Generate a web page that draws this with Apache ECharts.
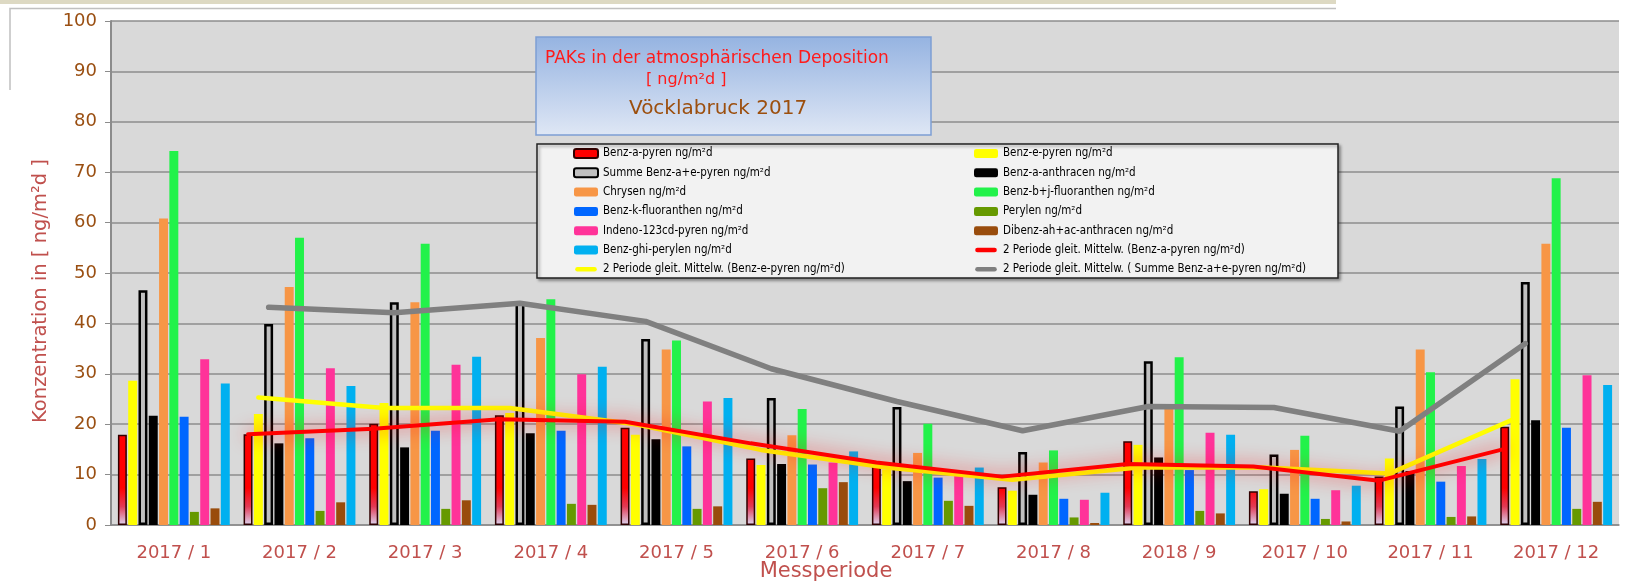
<!DOCTYPE html>
<html>
<head>
<meta charset="utf-8">
<title>PAKs in der atmosphärischen Deposition - Vöcklabruck 2017</title>
<script src="https://cdn.jsdelivr.net/npm/echarts@6/dist/echarts.min.js"></script>
<style>
  html, body { margin: 0; padding: 0; background: #ffffff; }
  #chart { width: 1630px; height: 588px; }
</style>
</head>
<body>
<div id="chart"></div>
<script>
// Messperioden (Beschriftung wie im Original, inkl. "2018 / 9")
var perioden = ['2017 / 1', '2017 / 2', '2017 / 3', '2017 / 4', '2017 / 5', '2017 / 6',
  '2017 / 7', '2017 / 8', '2018 / 9', '2017 / 10', '2017 / 11', '2017 / 12'];

// Messwerte in ng/m²d
var benzAPyren      = [17.9, 18.0, 20.1, 21.8, 19.3, 13.2, 11.6, 7.5, 16.6, 6.7, 9.6, 19.5];
var benzEPyren      = [28.6, 22.0, 24.2, 22.2, 17.9, 11.9, 11.0, 6.8, 15.9, 7.1, 13.2, 28.9];
var summeBenzAE     = [46.6, 39.9, 44.2, 44.0, 36.9, 25.2, 23.4, 14.5, 32.5, 14.0, 23.5, 48.2];
var benzAAnthracen  = [21.7, 16.2, 15.4, 18.2, 17.0, 12.1, 8.7, 6.0, 13.4, 6.2, 10.7, 20.8];
var chrysen         = [60.8, 47.2, 44.2, 37.1, 34.8, 17.8, 14.3, 12.4, 24.0, 14.9, 34.8, 55.8];
var benzBJFluor     = [74.2, 57.0, 55.8, 44.8, 36.6, 23.0, 20.1, 14.8, 33.3, 17.7, 30.3, 68.8];
var benzKFluor      = [21.5, 17.2, 18.7, 18.7, 15.6, 12.0, 9.4, 5.2, 10.9, 5.2, 8.6, 19.3];
var perylen         = [2.6, 2.8, 3.2, 4.2, 3.2, 7.3, 4.8, 1.5, 2.8, 1.2, 1.6, 3.2];
var indenoPyren     = [32.9, 31.1, 31.8, 29.9, 24.5, 12.4, 9.7, 5.0, 18.3, 6.9, 11.7, 29.7];
var dibenzAnthracen = [3.3, 4.5, 4.9, 4.0, 3.7, 8.5, 3.8, 0.4, 2.3, 0.7, 1.7, 4.6];
var benzGhiPerylen  = [28.1, 27.6, 33.4, 31.4, 25.2, 14.6, 11.4, 6.4, 17.9, 7.8, 13.1, 27.8];

// gleitende Mittelwerte (2 Perioden)
var mittelBaP   = [null, 18.0, 19.1, 21.0, 20.5, 16.2, 12.4, 9.6, 12.1, 11.6, 8.8, 15.1];
var mittelBeP   = [null, 25.3, 23.2, 23.2, 20.0, 14.9, 11.4, 9.0, 11.4, 11.4, 10.2, 21.1];
var mittelSumme = [null, 43.2, 42.1, 44.0, 40.4, 31.0, 24.5, 18.7, 23.5, 23.3, 18.6, 36.0];

// y-Achse
var yMin = 0, yMax = 100, yStep = 10;

var W = 1630;
var gridLeft = 111, gridRight = 11, gridTop = 21, gridBottom = 63;
var catGap = 0.11, barGap = 0.15, barCount = 11;

// Versatz eines Balkens gegenüber der Kategoriemitte (für die Linien)
function barOffset(idx) {
  var catW = (W - gridLeft - gridRight) / perioden.length;
  var used = catW * (1 - catGap);
  var w = used / (barCount + (barCount - 1) * barGap);
  return -used / 2 + w * (1 + barGap) * idx + w / 2;
}

var redFill = new echarts.graphic.LinearGradient(0, 488, 0, 525, [
  { offset: 0, color: '#ff0000' },
  { offset: 0.5, color: '#e23a55' },
  { offset: 1, color: '#dcd6f2' }
], true);

var balken = [
  { name: 'Benz-a-pyren ng/m²d', data: benzAPyren, itemStyle: { color: redFill, borderColor: '#300000', borderWidth: 1.5 } },
  { name: 'Benz-e-pyren ng/m²d', data: benzEPyren, itemStyle: { color: '#ffff00' } },
  { name: 'Summe Benz-a+e-pyren ng/m²d', data: summeBenzAE, itemStyle: { color: '#c0c0c0', borderColor: '#000000', borderWidth: 2.5 } },
  { name: 'Benz-a-anthracen ng/m²d', data: benzAAnthracen, itemStyle: { color: '#000000' } },
  { name: 'Chrysen ng/m²d', data: chrysen, itemStyle: { color: '#f79646' } },
  { name: 'Benz-b+j-fluoranthen ng/m²d', data: benzBJFluor, itemStyle: { color: '#22f24a' } },
  { name: 'Benz-k-fluoranthen ng/m²d', data: benzKFluor, itemStyle: { color: '#0066ff' } },
  { name: 'Perylen ng/m²d', data: perylen, itemStyle: { color: '#669900' } },
  { name: 'Indeno-123cd-pyren ng/m²d', data: indenoPyren, itemStyle: { color: '#ff3399' } },
  { name: 'Dibenz-ah+ac-anthracen ng/m²d', data: dibenzAnthracen, itemStyle: { color: '#994c0c' } },
  { name: 'Benz-ghi-perylen ng/m²d', data: benzGhiPerylen, itemStyle: { color: '#00b0f0' } }
];

var linien = [
  { name: '2 Periode gleit. Mittelw. (Benz-a-pyren ng/m²d)', data: mittelBaP, bar: 0,
    lineStyle: { color: '#ff0000', width: 4, cap: 'round', shadowBlur: 18, shadowColor: 'rgba(255,0,0,0.8)' } },
  { name: '2 Periode gleit. Mittelw. (Benz-e-pyren ng/m²d)', data: mittelBeP, bar: 1,
    lineStyle: { color: '#ffff00', width: 4.5, cap: 'round' } },
  { name: '2 Periode gleit. Mittelw. ( Summe Benz-a+e-pyren ng/m²d)', data: mittelSumme, bar: 2,
    lineStyle: { color: '#808080', width: 5.5, cap: 'round' } }
];

// dicke Linie mit runden Enden als Legendensymbol
var lineIcon = 'path://M0,0M2.5,2.5L21.5,2.5A2.5,2.5,0,0,1,21.5,7.5L2.5,7.5A2.5,2.5,0,0,1,2.5,2.5ZM24,10';

var grids = [{ left: gridLeft, right: gridRight, top: gridTop, bottom: gridBottom,
  show: true, backgroundColor: '#d9d9d9', borderWidth: 0 }];
var xAxes = [{
  type: 'category', gridIndex: 0, data: perioden,
  axisLine: { lineStyle: { color: '#8c8c8c', width: 1.5 } },
  axisTick: { length: 5, lineStyle: { color: '#8c8c8c' } },
  axisLabel: { color: '#c0504d', fontSize: 18, fontFamily: 'DejaVu Sans', margin: 19 }
}];
var yAxes = [{
  type: 'value', gridIndex: 0, min: yMin, max: yMax, interval: yStep,
  axisLine: { show: true, lineStyle: { color: '#8c8c8c', width: 2 } },
  axisTick: { show: true, length: 6, lineStyle: { color: '#8c8c8c' } },
  axisLabel: { color: '#9a4f12', fontSize: 18, fontFamily: 'DejaVu Sans', margin: 14 },
  splitLine: { lineStyle: { color: '#8c8c8c', width: 1.5 } }
}];

var series = balken.map(function (b) {
  return {
    name: b.name, type: 'bar', xAxisIndex: 0, yAxisIndex: 0, data: b.data,
    itemStyle: b.itemStyle, barGap: (barGap * 100) + '%', barCategoryGap: (catGap * 100) + '%',
    z: 2
  };
});

linien.forEach(function (l, i) {
  var off = barOffset(l.bar);
  grids.push({ left: gridLeft + off, right: gridRight - off, top: gridTop, bottom: gridBottom });
  xAxes.push({ type: 'category', gridIndex: i + 1, data: perioden, show: false });
  yAxes.push({ type: 'value', gridIndex: i + 1, min: yMin, max: yMax, show: false });
  series.push({
    name: l.name, type: 'line', xAxisIndex: i + 1, yAxisIndex: i + 1, data: l.data,
    symbol: 'none', lineStyle: l.lineStyle, itemStyle: { color: l.lineStyle.color },
    z: 5 + (i === 0 ? 1 : 0)
  });
});

function legendItem(name) {
  var isLine = linien.some(function (l) { return l.name === name; });
  return isLine ? { name: name, icon: lineIcon } : { name: name };
}

var legendText = { color: '#000000', fontSize: 11.5, fontFamily: 'Liberation Sans Narrow, DejaVu Sans Condensed, sans-serif', lineHeight: 14 };

var chart = echarts.init(document.getElementById('chart'));
chart.setOption({
  animation: false,
  grid: grids,
  xAxis: xAxes,
  yAxis: yAxes,
  legend: [
    {
      orient: 'vertical', left: 573, top: 146.5, padding: 0, itemWidth: 24, itemHeight: 9, itemGap: 5.3,
      textStyle: legendText, selectedMode: false,
      data: [balken[0].name, balken[2].name, balken[4].name, balken[6].name, balken[8].name, balken[10].name, linien[1].name].map(legendItem)
    },
    {
      orient: 'vertical', left: 974, top: 146.5, padding: 0, itemWidth: 24, itemHeight: 9, itemGap: 5.3,
      textStyle: legendText, selectedMode: false,
      data: [balken[1].name, balken[3].name, balken[5].name, balken[7].name, balken[9].name, linien[0].name, linien[2].name].map(legendItem)
    }
  ],
  graphic: [
    { type: 'rect', shape: { x: 0, y: 0, width: 1336, height: 4 }, style: { fill: '#ddd9c3' }, silent: true },
    { type: 'polyline', shape: { points: [[10, 90], [10, 8.5], [1336, 8.5]] }, style: { stroke: '#c0c0c0', lineWidth: 1.5, fill: null }, silent: true },
    {
      type: 'rect', shape: { x: 536, y: 37, width: 395, height: 98 }, z: 10,
      style: {
        fill: new echarts.graphic.LinearGradient(0, 0, 0, 1, [
          { offset: 0, color: '#95b3e1' }, { offset: 1, color: '#dfe7f5' }
        ]),
        stroke: '#7d9ed3', lineWidth: 1.5
      }
    },
    { type: 'text', left: 545, top: 50, z: 11, style: { text: 'PAKs in der atmosphärischen Deposition', fill: '#ff1a1a', font: '17px DejaVu Sans' } },
    { type: 'text', left: 646, top: 72, z: 11, style: { text: '[ ng/m²d ]', fill: '#ff1a1a', font: '16px DejaVu Sans' } },
    { type: 'text', left: 629, top: 99, z: 11, style: { text: 'Vöcklabruck 2017', fill: '#9c4f0e', font: '20px DejaVu Sans' } },
    {
      type: 'rect', shape: { x: 537, y: 144, width: 801, height: 134 }, z: 1,
      style: { fill: '#f2f2f2', stroke: '#222222', lineWidth: 1.5, shadowBlur: 3, shadowColor: 'rgba(0,0,0,0.35)', shadowOffsetX: 2, shadowOffsetY: 2 }
    },
    {
      type: 'text', x: 41, y: 291, rotation: Math.PI / 2, z: 10,
      style: { text: 'Konzentration in [ ng/m²d ]', fill: '#c0504d', font: '19.5px DejaVu Sans', align: 'center', verticalAlign: 'middle' }
    },
    {
      type: 'text', x: 826, y: 572, z: 10,
      style: { text: 'Messperiode', fill: '#c0504d', font: '21px DejaVu Sans', align: 'center', verticalAlign: 'middle' }
    }
  ],
  series: series
});
</script>
</body>
</html>
